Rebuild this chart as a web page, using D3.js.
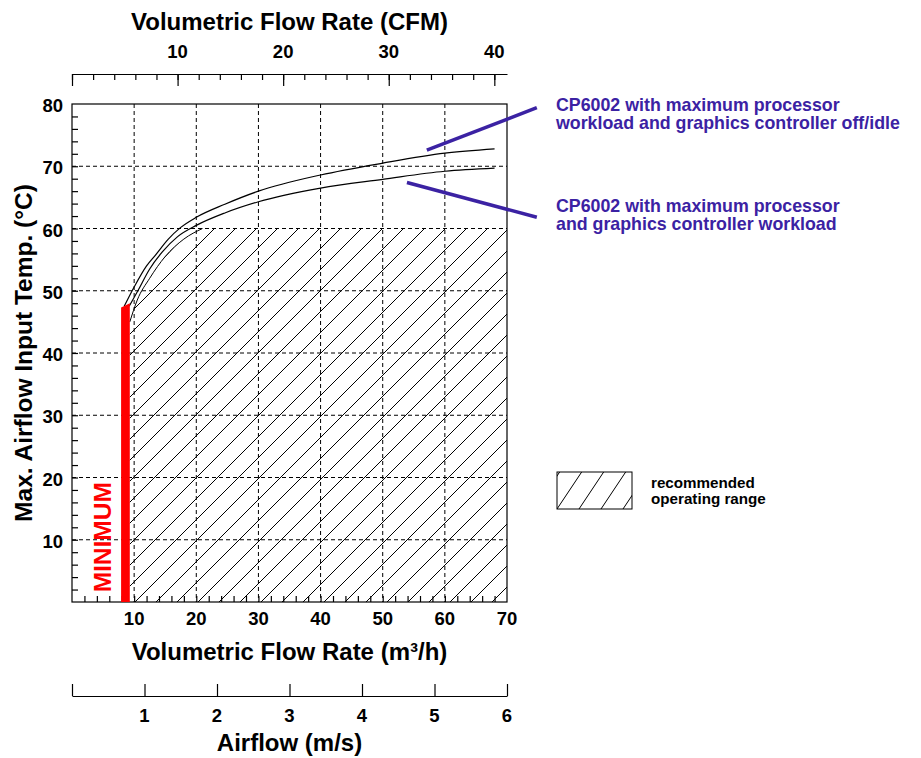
<!DOCTYPE html>
<html>
<head>
<meta charset="utf-8">
<script src="https://cdn.jsdelivr.net/npm/d3@7"></script>
<style>
  body { margin: 0; background: #fff; }
  text { font-family: "Liberation Sans", Arial, Helvetica, sans-serif; font-weight: bold; }
</style>
</head>
<body>
<div id="chart"></div>
<script>
// dades llegides del gràfic (cabal en m3/h, temperatura en °C)
const flowTicks = [10, 20, 30, 40, 50, 60, 70]
const tempTicks = [10, 20, 30, 40, 50, 60, 70, 80]
const cfmTicks = [0, 10, 20, 30, 40]
const cfmLabels = [10, 20, 30, 40]
const airTicks = [0, 1, 2, 3, 4, 5, 6]
const airLabels = [1, 2, 3, 4, 5, 6]

// corba: processador al màxim, controlador gràfic off/idle
const idleFlow = [8.4, 10, 12, 13.4, 15.5, 17.4, 20, 24.6, 30, 40, 50, 60, 68]
const idleTemp = [47.5, 50.6, 54.0, 55.7, 58.3, 60.1, 61.8, 63.9, 66.0, 68.6, 70.5, 72.1, 72.8]
// corba: processador i controlador gràfic al màxim
const fullFlow = [9.2, 10.6, 12.5, 14.5, 17, 20, 24.6, 30, 40, 50, 60, 68]
const fullTemp = [47.5, 50.0, 53.5, 56.2, 58.7, 60.5, 62.5, 64.3, 66.5, 67.9, 69.2, 69.7]
// límit de la zona recomanada
const rangeFlow = [9.3, 10.5, 12.5, 15, 18, 21]
const rangeTemp = [45, 48.5, 52, 55.5, 58.3, 60]
const rangeMaxFlow = 70
const rangeMaxTemp = 60
// cabal mínim
const minFlow = [7.9, 9.3]
const minTop = [47.3, 48.0]

// factors de conversió
const cfmPerM3h = 1 / 1.699
const airPerM3h = 6 / 70

// anotacions [cabal, temp] -> text
const noteIdle = [[57.1, 72.6], [74.8, 79.4]]
const noteFull = [[53.9, 67.4], [74.8, 61.8]]
const noteIdleText = ['CP6002 with maximum processor', 'workload and graphics controller off/idle']
const noteFullText = ['CP6002 with maximum processor', 'and graphics controller workload']

// mides
let ample = 921
let alt = 758
let esq = 72
let dre = 507
let dalt = 104
let baix = 602
let lila = '#3b22a3'

let svg = d3.select('#chart')
  .append('svg')
  .attr('width', ample)
  .attr('height', alt)

let x = d3.scaleLinear().domain([0, 70]).range([esq, dre])
let y = d3.scaleLinear().domain([0, 80]).range([baix, dalt])
let xCfm = d3.scaleLinear().domain([0, 70 * cfmPerM3h]).range([esq, dre])
let xAir = d3.scaleLinear().domain([0, 70 * airPerM3h]).range([esq, dre])

// patrons de ratllat
let defs = svg.append('defs')
let pat = defs.append('pattern')
  .attr('id', 'ratllat')
  .attr('patternUnits', 'userSpaceOnUse')
  .attr('x', esq).attr('y', baix)
  .attr('width', 21).attr('height', 21)
pat.append('path')
  .attr('d', 'M0,21 L21,0 M-2,2 L2,-2 M19,23 L23,19')
  .attr('stroke', '#000').attr('stroke-width', 1)

let pat2 = defs.append('pattern')
  .attr('id', 'ratllat2')
  .attr('patternUnits', 'userSpaceOnUse')
  .attr('x', 557).attr('y', 509)
  .attr('width', 22).attr('height', 33)
pat2.append('path')
  .attr('d', 'M0,33 L22,0 M-2,3 L2,-3 M20,36 L24,30')
  .attr('stroke', '#000').attr('stroke-width', 1)

// zona recomanada
let zona = [[rangeFlow[0], 0]]
rangeFlow.forEach((f, i) => zona.push([f, rangeTemp[i]]))
zona.push([rangeMaxFlow, rangeMaxTemp], [rangeMaxFlow, 0])

svg.append('path')
  .attr('d', d3.line().x(d => x(d[0])).y(d => y(d[1])).curve(d3.curveLinear)(zona))
  .attr('fill', 'url(#ratllat)')

svg.append('path')
  .attr('d', d3.line().x((d, i) => x(d)).y((d, i) => y(rangeTemp[i])).curve(d3.curveMonotoneX)(rangeFlow))
  .attr('fill', 'none').attr('stroke', '#000').attr('stroke-width', 1)

// graella
svg.append('g').selectAll('line')
  .data(flowTicks.slice(0, -1))
  .enter()
  .append('line')
  .attr('x1', d => x(d)).attr('x2', d => x(d))
  .attr('y1', dalt).attr('y2', baix)
  .attr('stroke', '#000').attr('stroke-dasharray', '4,3')

svg.append('g').selectAll('line')
  .data(tempTicks.slice(0, -1))
  .enter()
  .append('line')
  .attr('x1', esq).attr('x2', dre)
  .attr('y1', d => y(d)).attr('y2', d => y(d))
  .attr('stroke', '#000').attr('stroke-dasharray', '4,3')

// eixos menors
svg.append('g')
  .attr('transform', `translate(${esq},0)`)
  .call(d3.axisRight(y).tickValues(d3.range(2, 80, 2)).tickSize(6).tickFormat(''))
  .call(g => g.select('.domain').remove())

svg.append('g')
  .attr('transform', `translate(0,${baix})`)
  .call(d3.axisTop(x).tickValues(d3.range(2, 70, 2)).tickSize(6).tickFormat(''))
  .call(g => g.select('.domain').remove())

// marc
svg.append('rect')
  .attr('x', esq).attr('y', dalt)
  .attr('width', dre - esq).attr('height', baix - dalt)
  .attr('fill', 'none').attr('stroke', '#000').attr('stroke-width', 1.2)

// corbes
let linia = d3.line().curve(d3.curveMonotoneX)
svg.append('path')
  .attr('d', linia(idleFlow.map((f, i) => [x(f), y(idleTemp[i])])))
  .attr('fill', 'none').attr('stroke', '#000').attr('stroke-width', 1.2)
svg.append('path')
  .attr('d', linia(fullFlow.map((f, i) => [x(f), y(fullTemp[i])])))
  .attr('fill', 'none').attr('stroke', '#000').attr('stroke-width', 1.2)

// barra del mínim
svg.append('path')
  .attr('d', d3.line()([[x(minFlow[0]), y(0)], [x(minFlow[0]), y(minTop[0])],
    [x(minFlow[1]), y(minTop[1])], [x(minFlow[1]), y(0)]]) + 'Z')
  .attr('fill', '#ff0000')

svg.append('text')
  .attr('transform', `translate(111,${y(10.4)}) rotate(-90)`)
  .attr('text-anchor', 'middle')
  .attr('font-size', 24.5)
  .attr('fill', '#ff0000')
  .text('MINIMUM')

// etiquetes eix Y
svg.append('g').selectAll('text')
  .data(tempTicks)
  .enter()
  .append('text')
  .attr('x', esq - 9)
  .attr('y', d => y(d) + 8)
  .attr('text-anchor', 'end')
  .attr('font-size', 18.5)
  .text(d => d)

// etiquetes eix X
svg.append('g').selectAll('text')
  .data(flowTicks)
  .enter()
  .append('text')
  .attr('x', d => x(d))
  .attr('y', 625)
  .attr('text-anchor', 'middle')
  .attr('font-size', 18.5)
  .text(d => d)

// eix CFM a dalt
svg.append('g')
  .attr('transform', 'translate(0,74)')
  .call(d3.axisBottom(xCfm).tickValues(d3.range(0, 42, 2)).tickSize(6).tickSizeOuter(0).tickFormat(''))
svg.append('g')
  .attr('transform', 'translate(0,74)')
  .call(d3.axisBottom(xCfm).tickValues(cfmTicks).tickSize(12).tickFormat(''))
  .call(g => g.select('.domain').remove())
svg.append('g').selectAll('text')
  .data(cfmLabels)
  .enter()
  .append('text')
  .attr('x', d => xCfm(d))
  .attr('y', 58)
  .attr('text-anchor', 'middle')
  .attr('font-size', 18.5)
  .text(d => d)

// eix velocitat a baix
svg.append('g')
  .attr('transform', 'translate(0,696)')
  .call(d3.axisTop(xAir).tickValues(airTicks).tickSize(12).tickSizeOuter(0).tickFormat(''))
svg.append('g').selectAll('text')
  .data(airLabels)
  .enter()
  .append('text')
  .attr('x', d => xAir(d))
  .attr('y', 722)
  .attr('text-anchor', 'middle')
  .attr('font-size', 18.5)
  .text(d => d)

svg.selectAll('.tick line, .domain').attr('stroke', '#000').attr('stroke-width', 1.2)

// títols
let mig = (esq + dre) / 2
svg.append('text').attr('x', mig).attr('y', 30).attr('text-anchor', 'middle')
  .attr('font-size', 24).text('Volumetric Flow Rate (CFM)')
svg.append('text').attr('x', mig).attr('y', 660).attr('text-anchor', 'middle')
  .attr('font-size', 24).text('Volumetric Flow Rate (m³/h)')
svg.append('text').attr('x', mig).attr('y', 751).attr('text-anchor', 'middle')
  .attr('font-size', 24).text('Airflow (m/s)')
svg.append('text')
  .attr('transform', `translate(32,${(dalt + baix) / 2}) rotate(-90)`)
  .attr('text-anchor', 'middle')
  .attr('font-size', 24.5)
  .text('Max. Airflow Input Temp. (°C)')

// anotacions
;[noteIdle, noteFull].forEach(n => {
  svg.append('line')
    .attr('x1', x(n[0][0])).attr('y1', y(n[0][1]))
    .attr('x2', x(n[1][0])).attr('y2', y(n[1][1]))
    .attr('stroke', lila).attr('stroke-width', 3.5)
})

;[[noteIdleText, 111], [noteFullText, 212]].forEach(([linies, y0]) => {
  let t = svg.append('text')
    .attr('x', 556)
    .attr('y', y0)
    .attr('font-size', 17.8)
    .attr('fill', lila)
  linies.forEach((l, i) => {
    t.append('tspan').attr('x', 556).attr('dy', i == 0 ? 0 : 18).text(l)
  })
})

// llegenda
svg.append('rect')
  .attr('x', 557).attr('y', 472)
  .attr('width', 75).attr('height', 37)
  .attr('fill', 'url(#ratllat2)')
  .attr('stroke', '#000').attr('stroke-width', 1)
let lleg = svg.append('text').attr('x', 651).attr('y', 488).attr('font-size', 15.2)
lleg.append('tspan').attr('x', 651).text('recommended')
lleg.append('tspan').attr('x', 651).attr('dy', 15.5).text('operating range')
</script>
</body>
</html>
